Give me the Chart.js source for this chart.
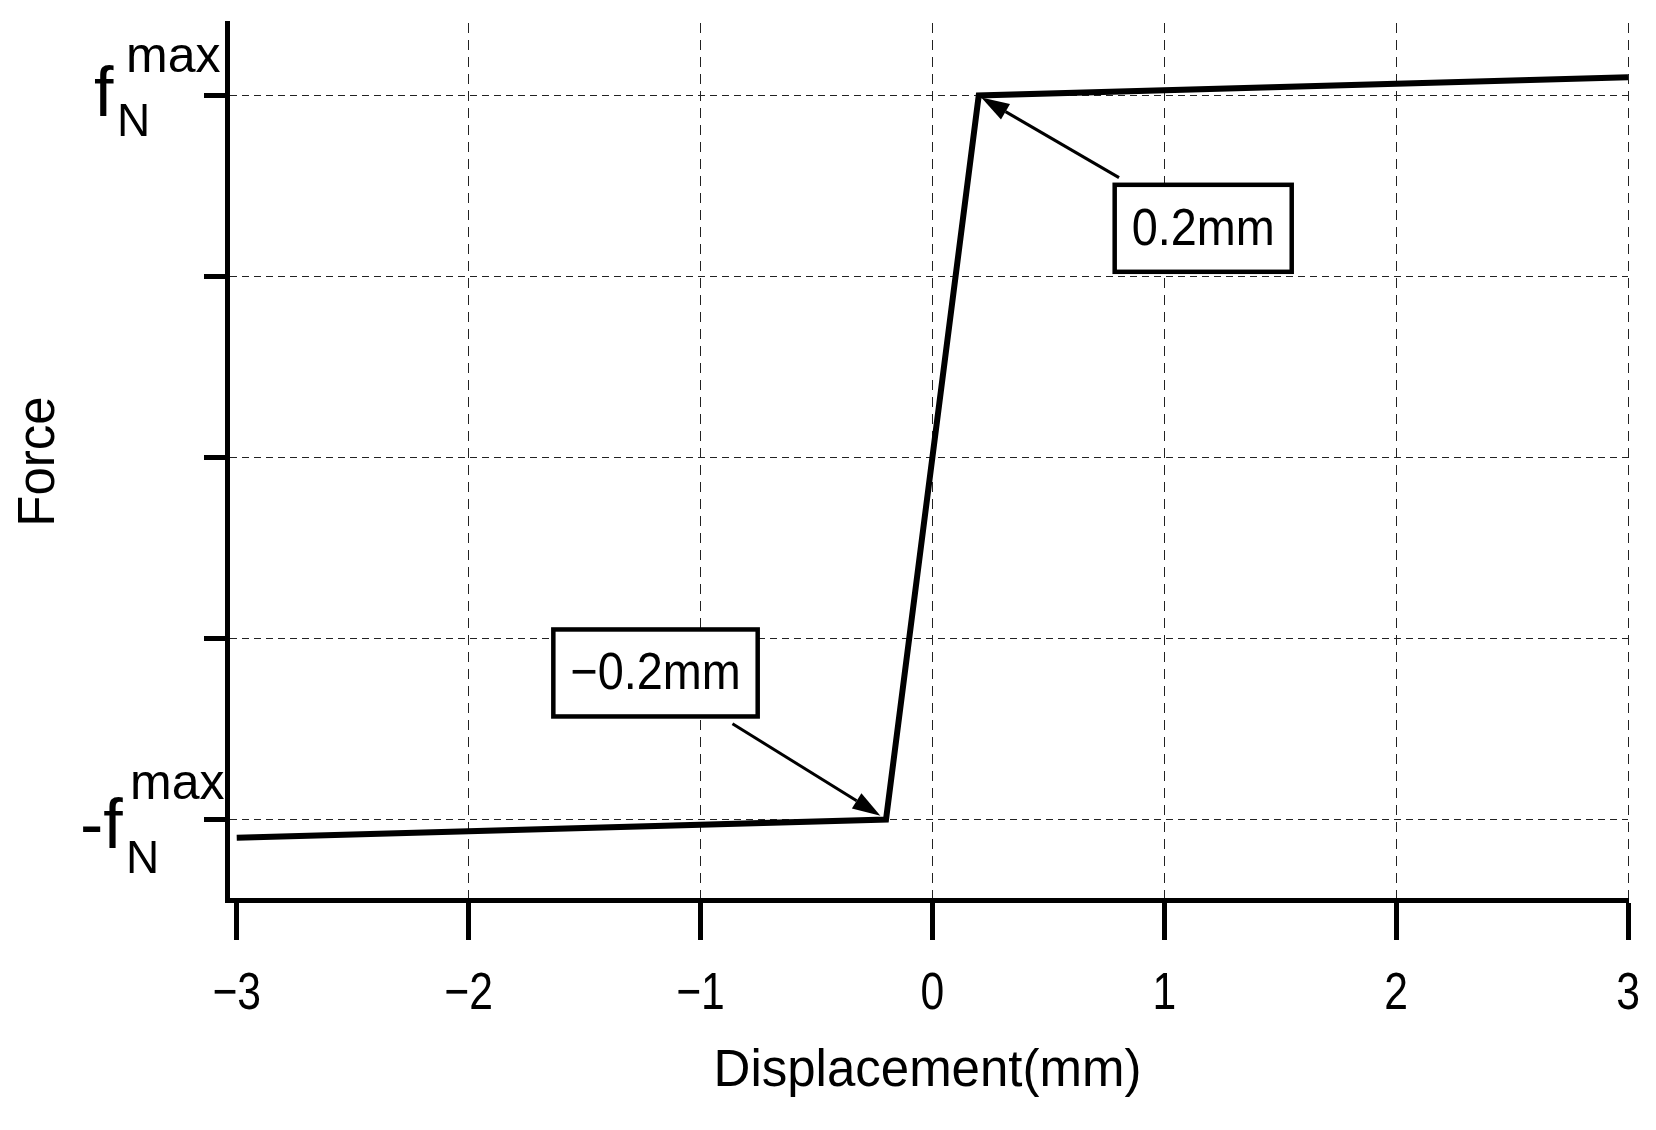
<!DOCTYPE html>
<html>
<head>
<meta charset="utf-8">
<script src="https://cdn.jsdelivr.net/npm/chart.js@4.4.1/dist/chart.umd.min.js"></script>
<style>
  html, body { margin: 0; padding: 0; background: #fff; }
  canvas { display: block; }
</style>
</head>
<body>
<canvas id="forceChart" width="1656" height="1130"></canvas>
<script>
// displacement (mm) and normalised force (f / fN max)
const displacement = [-3, -0.2, 0.2, 3];
const force = [-1.05, -1, 1, 1.05];

// axis ticks
const xTicks = [-3, -2, -1, 0, 1, 2, 3];
const yTicks = [-1, -0.5, 0, 0.5, 1];

// the two labelled y ticks (fN max and -fN max)
const yLabelValues = [1, -1];
const yLabelPrefix = ['', '-'];

// annotation boxes: text, box centre, arrow tail and arrow tip (all in data units)
const noteText = ['0.2mm', '\u22120.2mm'];
const noteBoxX = [1.168, -1.194];
const noteBoxY = [0.633, -0.595];
const noteTailX = [0.805, -0.862];
const noteTailY = [0.773, -0.735];
const noteTipX = [0.211, -0.224];
const noteTipY = [0.994, -0.989];

const FONT = "'Liberation Sans', Arial, sans-serif";

// text squeezed horizontally, the original uses a narrow face
function narrowText(ctx, text, x, y, sx) {
  ctx.save();
  ctx.translate(x, y);
  ctx.scale(sx, 1);
  ctx.fillText(text, 0, 0);
  ctx.restore();
}

// draws fN^max labels beside the y axis (chart.js ticks can't do sub/superscript)
const fLabels = {
  id: 'fLabels',
  afterDraw(chart) {
    const ctx = chart.ctx;
    const y = chart.scales.y;
    ctx.save();
    ctx.fillStyle = '#000';
    ctx.textAlign = 'left';
    ctx.textBaseline = 'alphabetic';
    yLabelValues.forEach((v, i) => {
      const py = y.getPixelForValue(v);
      const neg = yLabelPrefix[i] !== '';
      ctx.font = '70px ' + FONT;
      ctx.fillText(yLabelPrefix[i] + 'f', neg ? 80 : 94, py + (neg ? 28 : 21));
      ctx.font = '46px ' + FONT;
      ctx.fillText('N', neg ? 126 : 117, py + (neg ? 53 : 41));
      ctx.font = '50px ' + FONT;
      ctx.fillText('max', neg ? 130 : 126, py - (neg ? 21 : 23));
    });
    ctx.restore();
  }
};

// x tick labels, drawn narrow
const xLabels = {
  id: 'xLabels',
  afterDraw(chart) {
    const ctx = chart.ctx;
    const xs = chart.scales.x;
    ctx.save();
    ctx.fillStyle = '#000';
    ctx.font = '52px ' + FONT;
    ctx.textAlign = 'center';
    ctx.textBaseline = 'alphabetic';
    xTicks.forEach(v => {
      const t = v < 0 ? '\u2212' + Math.abs(v) : String(v);
      narrowText(ctx, t, xs.getPixelForValue(v), chart.chartArea.bottom + 109, 0.82);
    });
    ctx.restore();
  }
};

// boxed annotations with arrows
const notes = {
  id: 'notes',
  afterDatasetsDraw(chart) {
    const ctx = chart.ctx;
    const xs = chart.scales.x, ys = chart.scales.y;
    ctx.save();
    noteText.forEach((t, i) => {
      const tx = xs.getPixelForValue(noteTailX[i]), ty = ys.getPixelForValue(noteTailY[i]);
      const hx = xs.getPixelForValue(noteTipX[i]), hy = ys.getPixelForValue(noteTipY[i]);
      const ang = Math.atan2(hy - ty, hx - tx);
      const headLen = 28, headW = 9;
      const bx = hx - headLen * Math.cos(ang), by = hy - headLen * Math.sin(ang);
      ctx.strokeStyle = '#000';
      ctx.lineWidth = 3;
      ctx.beginPath();
      ctx.moveTo(tx, ty);
      ctx.lineTo(bx, by);
      ctx.stroke();
      ctx.fillStyle = '#000';
      ctx.beginPath();
      ctx.moveTo(hx, hy);
      ctx.lineTo(bx + headW * Math.sin(ang), by - headW * Math.cos(ang));
      ctx.lineTo(bx - headW * Math.sin(ang), by + headW * Math.cos(ang));
      ctx.closePath();
      ctx.fill();

      ctx.font = '52px ' + FONT;
      const sx = 0.9;
      const w = ctx.measureText(t).width * sx + 34;
      const h = 87;
      const cx = xs.getPixelForValue(noteBoxX[i]), cy = ys.getPixelForValue(noteBoxY[i]);
      ctx.fillStyle = '#fff';
      ctx.fillRect(cx - w / 2, cy - h / 2, w, h);
      ctx.lineWidth = 4.5;
      ctx.strokeRect(cx - w / 2, cy - h / 2, w, h);
      ctx.fillStyle = '#000';
      ctx.textAlign = 'center';
      ctx.textBaseline = 'middle';
      narrowText(ctx, t, cx, cy + 2, sx);
    });
    ctx.restore();
  }
};

new Chart(document.getElementById('forceChart'), {
  type: 'line',
  data: {
    datasets: [{
      data: displacement.map((x, i) => ({ x: x, y: force[i] })),
      borderColor: '#000',
      borderWidth: 6,
      pointRadius: 0,
      fill: false,
      tension: 0
    }]
  },
  options: {
    responsive: false,
    animation: false,
    devicePixelRatio: 1,
    layout: { padding: { top: 23, right: 28, bottom: 0, left: 0 } },
    plugins: { legend: { display: false }, tooltip: { enabled: false } },
    scales: {
      x: {
        type: 'linear',
        min: -3.042,
        max: 3,
        afterBuildTicks: s => { s.ticks = xTicks.map(v => ({ value: v })); },
        afterFit: s => { s.height = 230; s.paddingRight = 0; s.paddingLeft = 0; },
        grid: {
          color: ctx => (ctx.tick && ctx.tick.value === -3) ? 'rgba(0,0,0,0)' : '#222',
          lineWidth: 1,
          drawTicks: true,
          tickLength: 40,
          tickWidth: 5,
          tickColor: '#000'
        },
        border: { display: true, color: '#000', width: 5, dash: [10, 7] },
        ticks: { display: false },
        title: {
          display: true,
          text: 'Displacement(mm)',
          color: '#000',
          font: { family: FONT, size: 51 },
          padding: { top: 0, bottom: 27 }
        }
      },
      y: {
        type: 'linear',
        min: -1.222,
        max: 1.2,
        afterBuildTicks: s => { s.ticks = yTicks.map(v => ({ value: v })); },
        afterFit: s => { s.width = 227; },
        grid: {
          color: '#222',
          lineWidth: 1,
          drawTicks: true,
          tickLength: 23,
          tickWidth: 5,
          tickColor: '#000'
        },
        border: { display: true, color: '#000', width: 5, dash: [7, 5] },
        ticks: { display: false },
        title: {
          display: true,
          text: 'Force',
          color: '#000',
          font: { family: FONT, size: 51 },
          padding: { top: 9, bottom: 0 }
        }
      }
    }
  },
  plugins: [fLabels, xLabels, notes]
});
</script>
</body>
</html>
